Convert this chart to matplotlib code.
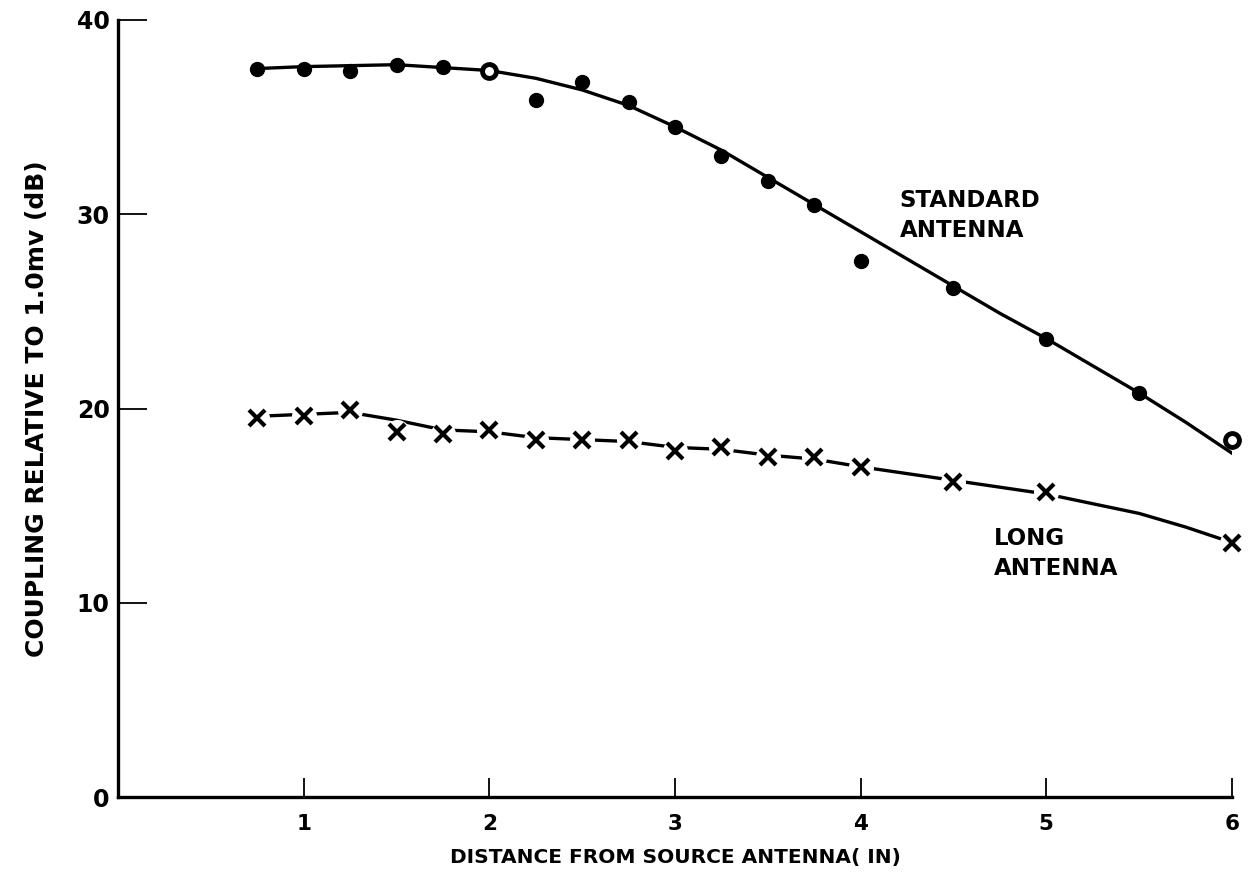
import numpy as np
import matplotlib
matplotlib.use('Agg')
import matplotlib.pyplot as plt

# measured points, standard antenna (dots)
std_x = [0.75, 1.0, 1.25, 1.5, 1.75, 2.0, 2.25, 2.5, 2.75, 3.0, 3.25, 3.5, 3.75, 4.0, 4.5, 5.0, 5.5, 6.0]
std_y = [37.5, 37.5, 37.4, 37.7, 37.6, 37.4, 35.9, 36.8, 35.8, 34.5, 33.0, 31.7, 30.5, 27.6, 26.2, 23.6, 20.8, 18.4]
std_open = [2.0, 6.0]

# faired curve through the standard points
std_curve_x = [0.75, 1.0, 1.5, 2.0, 2.25, 2.5, 2.75, 3.0, 3.25, 3.5, 3.75, 4.0, 4.25, 4.5, 4.75, 5.0, 5.25, 5.5, 5.75, 6.0]
std_curve_y = [37.5, 37.6, 37.7, 37.4, 37.0, 36.4, 35.6, 34.5, 33.3, 31.9, 30.5, 29.1, 27.7, 26.3, 24.9, 23.6, 22.2, 20.8, 19.3, 17.7]

# measured points, long antenna (crosses)
long_x = [0.75, 1.0, 1.25, 1.5, 1.75, 2.0, 2.25, 2.5, 2.75, 3.0, 3.25, 3.5, 3.75, 4.0, 4.5, 5.0, 6.0]
long_y = [19.5, 19.6, 19.9, 18.8, 18.7, 18.9, 18.4, 18.4, 18.4, 17.8, 18.0, 17.5, 17.5, 17.0, 16.2, 15.7, 13.1]

long_curve_x = [0.75, 1.0, 1.25, 1.5, 1.75, 2.0, 2.25, 2.5, 2.75, 3.0, 3.25, 3.5, 3.75, 4.0, 4.5, 5.0, 5.25, 5.5, 5.75, 6.0]
long_curve_y = [19.6, 19.7, 19.8, 19.4, 18.9, 18.8, 18.5, 18.4, 18.3, 18.0, 17.9, 17.6, 17.4, 17.0, 16.3, 15.6, 15.1, 14.6, 13.9, 13.1]

fig = plt.figure(figsize=(12.53, 8.81), dpi=100)
ax = fig.add_axes([0.0942, 0.0953, 0.8890, 0.8820])

ax.plot(std_curve_x, std_curve_y, color='black', lw=2.4, zorder=2)
fill_x = [x for x in std_x if x not in std_open]
fill_y = [y for x, y in zip(std_x, std_y) if x not in std_open]
ax.plot(fill_x, fill_y, 'o', color='black', ms=10, zorder=3, clip_on=False)
open_y = [y for x, y in zip(std_x, std_y) if x in std_open]
ax.plot(std_open, open_y, 'o', mfc='white', mec='black', mew=3.5, ms=10, zorder=3, clip_on=False)

ax.plot(long_curve_x, long_curve_y, color='black', lw=2.4, zorder=2)
ax.plot(long_x, long_y, 'o', color='white', ms=17, zorder=3, clip_on=False)
ax.plot(long_x, long_y, 'x', color='black', ms=11, mew=3, zorder=4, clip_on=False)

lab = dict(fontsize=16.5, fontweight='bold', family='DejaVu Sans', linespacing=1.4)
ax.text(4.21, 31.3, 'STANDARD\nANTENNA', va='top', ha='left', **lab)
ax.text(4.72, 13.9, 'LONG\nANTENNA', va='top', ha='left', **lab)

ax.set_xlim(0, 6)
ax.set_ylim(0, 40)
ax.set_xticks([1, 2, 3, 4, 5, 6])
ax.set_yticks([0, 10, 20, 30, 40])
ax.spines['top'].set_visible(False)
ax.spines['right'].set_visible(False)
ax.spines['left'].set_linewidth(2.4)
ax.spines['bottom'].set_linewidth(2.4)
ax.tick_params(axis='x', direction='in', length=14, width=1.3, pad=12, labelsize=15.5)
ax.tick_params(axis='y', direction='in', length=21, width=1.3, pad=6, labelsize=17)
for t in ax.get_xticklabels() + ax.get_yticklabels():
    t.set_fontweight('bold')
ax.yaxis.get_major_ticks()[0].tick1line.set_visible(False)

ax.set_xlabel('DISTANCE FROM SOURCE ANTENNA( IN)', fontsize=14.5, fontweight='bold', labelpad=10)
ax.set_ylabel('COUPLING RELATIVE TO 1.0mv (dB)', fontsize=18, fontweight='bold', labelpad=20)

fig.savefig('out.png', dpi=100)
